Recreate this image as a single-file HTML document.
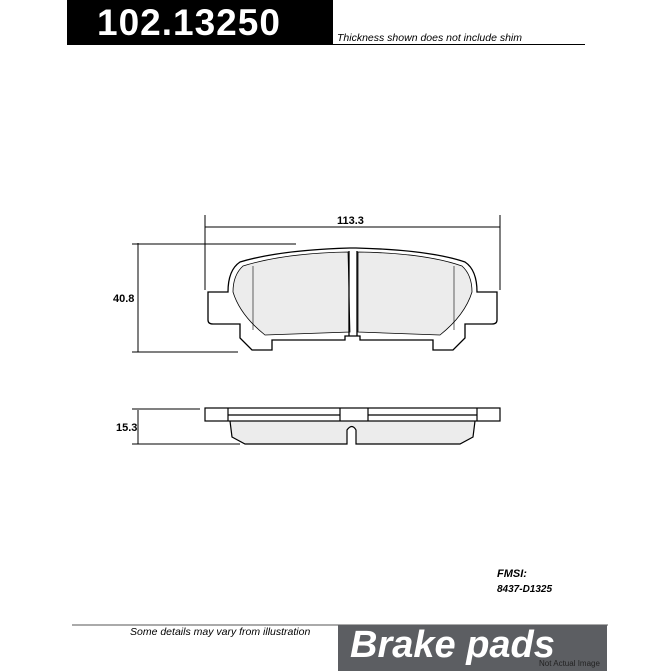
<!DOCTYPE html>
<html><head><style>
body{margin:0;width:671px;height:671px;background:#fff;overflow:hidden;position:relative;font-family:"Liberation Sans",sans-serif}
.a{position:absolute}
</style></head><body>
<div class="a" style="left:67px;top:0;width:266px;height:45px;background:#000"></div>
<div class="a" style="left:97px;top:2px;color:#fff;font-weight:bold;font-size:37px;letter-spacing:1px">102.13250</div>
<div class="a" style="left:333px;top:44px;width:252px;height:1px;background:#000"></div>
<div class="a" style="left:337px;top:32px;font-size:10.5px;font-style:italic">Thickness shown does not include shim</div>
<svg class="a" style="left:0;top:0" width="671" height="671" fill="none" stroke="#000" stroke-width="1">
<line x1="205" y1="215" x2="205" y2="290"/><line x1="500" y1="215" x2="500" y2="290"/>
<line x1="205" y1="227" x2="500" y2="227"/>
<line x1="138" y1="243" x2="138" y2="352"/><line x1="132" y1="244" x2="296" y2="244"/><line x1="132" y1="352" x2="238" y2="352"/>
<line x1="138" y1="410" x2="138" y2="444"/><line x1="132" y1="409" x2="200" y2="409"/><line x1="132" y1="444" x2="240" y2="444"/>
<g stroke-width="1.3">
<path d="M348 252 Q285 253 243 266 Q233 275 233 292 Q240 315 265 335 L350 332 Z" fill="#ececec" stroke-width="0.8"/>
<path d="M358 252 Q425 253 462 266 Q472 275 472 292 Q465 315 440 335 L358 332 Z" fill="#ececec" stroke-width="0.8"/>
<path d="M353 248 L350 248 Q280 250 240 262 Q228 270 228 292 L208 292 L208 320 Q208 324 213 324 L240 324 L240 338 L252 350 L272 350 L272 340 L345 340 L345 336 L353 336"/>
<path d="M353 248 L356 248 Q430 250 465 262 Q477 270 477 292 L497 292 L497 320 Q497 324 492 324 L465 324 L465 338 L453 350 L433 350 L433 340 L360 340 L360 336 L353 336"/>
<line x1="349" y1="251" x2="349" y2="336"/><line x1="357" y1="251" x2="357" y2="336"/>
<line x1="253" y1="266" x2="253" y2="330" stroke-width="0.6"/><line x1="454" y1="266" x2="454" y2="330" stroke-width="0.6"/>
</g>
<g stroke-width="1.2">
<path d="M230 421 L232 437 L245 444 L347 444 L347 430 Q352 423 356 430 L356 444 L460 444 L473 437 L475 421" fill="#ececec"/>
<rect x="205" y="408" width="295" height="13"/>
<line x1="228" y1="408" x2="228" y2="421"/><line x1="477" y1="408" x2="477" y2="421"/>
<line x1="340" y1="408" x2="340" y2="421"/><line x1="368" y1="408" x2="368" y2="421"/>
<line x1="228" y1="415" x2="340" y2="415"/><line x1="368" y1="415" x2="477" y2="415"/>
</g>
<line x1="72" y1="625" x2="608" y2="625" stroke="#555"/>
</svg>
<div class="a" style="left:113px;top:293px;font-size:11px;font-weight:bold">40.8</div>
<div class="a" style="left:116px;top:422px;font-size:11px;font-weight:bold">15.3</div>
<div class="a" style="left:337px;top:215px;font-size:11px;font-weight:bold">113.3</div>
<div class="a" style="left:497px;top:568px;font-size:11px;font-weight:bold;font-style:italic">FMSI:</div>
<div class="a" style="left:497px;top:584px;font-size:10px;font-weight:bold;font-style:italic">8437-D1325</div>
<div class="a" style="left:130px;top:626px;font-size:10.5px;font-style:italic">Some details may vary from illustration</div>
<div class="a" style="left:338px;top:625px;width:269px;height:46px;background:#5c5e62"></div>
<div class="a" style="left:350px;top:624px;color:#fff;font-weight:bold;font-style:italic;font-size:38px">Brake pads</div>
<div class="a" style="left:539px;top:659px;font-size:8px;color:#222">Not Actual Image</div>
</body></html>
